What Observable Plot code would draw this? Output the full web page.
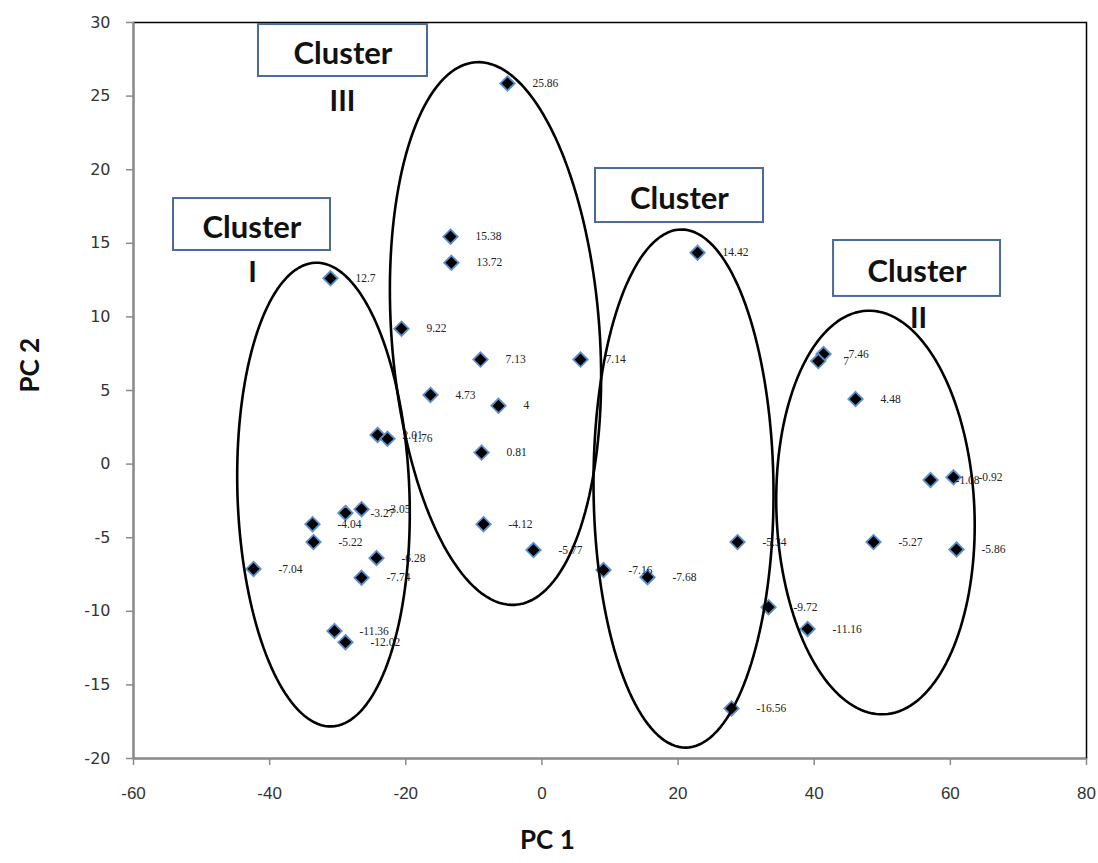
<!DOCTYPE html>
<html>
<head>
<meta charset="utf-8">
<script src="https://cdn.jsdelivr.net/npm/d3@7"></script>
<script src="https://cdn.jsdelivr.net/npm/@observablehq/plot@0.6"></script>
<style>
  html, body { margin: 0; padding: 0; background: #fff; }
  #chart svg { display: block; }
</style>
</head>
<body>
<div id="chart"></div>
<script>
// ---- data ----
const pc1 = [-5.06, -13.43, -13.3, -31.06, -20.63, -9.02, 5.67, -16.37, -6.38, -24.15, -22.69, -8.87,
  -8.58, -1.24, 9.05, 15.51, 22.86, 28.73, 33.29, 39.02, 27.85, 41.37, 40.6, 46.07, 57.09, 60.46,
  48.71, 60.9, -28.86, -26.5, -33.7, -33.56, -24.3, -26.5, -42.37, -30.47, -28.86];
const pc2 = [25.86, 15.45, 13.68, 12.62, 9.2, 7.1, 7.1, 4.7, 3.96, 1.98, 1.72, 0.78,
  -4.08, -5.84, -7.2, -7.68, 14.36, -5.3, -9.72, -11.2, -16.6, 7.48, 7.0, 4.42, -1.08, -0.9,
  -5.3, -5.8, -3.32, -3.06, -4.08, -5.3, -6.38, -7.72, -7.12, -11.34, -12.1];
const pointLabels = ["25.86", "15.38", "13.72", "12.7", "9.22", "7.13", "7.14", "4.73", "4", "2.01", "1.76", "0.81",
  "-4.12", "-5.77", "-7.16", "-7.68", "14.42", "-5.34", "-9.72", "-11.16", "-16.56", "7.46", "7", "4.48", "-1.08", "-0.92",
  "-5.27", "-5.86", "-3.27", "-3.05", "-4.04", "-5.22", "-6.28", "-7.74", "-7.04", "-11.36", "-12.02"];

const xTicks = [-60, -40, -20, 0, 20, 40, 60, 80];
const yTicks = [-20, -15, -10, -5, 0, 5, 10, 15, 20, 25, 30];

// cluster ellipses (centre, semi-axes in data units, tilt in degrees)
const ellCx = [-32.09, -6.82, 20.8, 49.0];
const ellCy = [-2.07, 8.87, -1.66, -3.29];
const ellRx = [12.63, 15.28, 13.22, 14.54];
const ellRy = [15.76, 18.48, 17.6, 13.72];
const ellTilt = [-2, -4.2, -0.5, -2.4];

// cluster boxes
const boxText = ["Cluster", "Cluster", "Cluster", "Cluster"];
const boxX1 = [-54.12, -41.64, 7.87, 42.84];
const boxX2 = [-31.06, -16.81, 32.55, 67.37];
const boxY1 = [18.04, 29.86, 20.08, 15.19];
const boxY2 = [14.51, 26.33, 16.41, 11.39];
const numText = ["I", "III", "II"];
const numX = [-42.52, -29.3, 55.32];
const numY = [13.02, 24.63, 9.89];

// ---- layout ----
const W = 1098, H = 863;
const mL = 133, mR = 12, mT = 22, mB = 105;
const xDom = [-60, 80], yDom = [-20, 30];
const kx = (W - mL - mR) / (xDom[1] - xDom[0]);
const ky = (H - mT - mB) / (yDom[1] - yDom[0]);

const points = pc1.map((x, i) => ({x, y: pc2[i], label: pointLabels[i]}));

const ellipsePts = [];
ellCx.forEach((cx, e) => {
  const a = ellRx[e] * kx, b = ellRy[e] * ky, th = ellTilt[e] * Math.PI / 180;
  for (let k = 0; k < 160; k++) {
    const t = 2 * Math.PI * k / 160;
    const u = a * Math.cos(t), v = b * Math.sin(t);
    const sx = u * Math.cos(th) - v * Math.sin(th);
    const sy = u * Math.sin(th) + v * Math.cos(th);
    ellipsePts.push({e, x: cx + sx / kx, y: ellCy[e] - sy / ky});
  }
});

const boxes = boxText.map((t, i) => ({t, x1: boxX1[i], x2: boxX2[i], y1: boxY1[i], y2: boxY2[i]}));
const nums = numText.map((t, i) => ({t, x: numX[i], y: numY[i]}));

const chart = Plot.plot({
  width: W, height: H,
  marginLeft: mL, marginRight: mR, marginTop: mT, marginBottom: mB,
  x: {domain: xDom, ticks: xTicks},
  y: {domain: yDom, ticks: yTicks},
  style: {background: "#fff", overflow: "visible"},
  marks: [
    Plot.frame({stroke: "#000", strokeWidth: 1.5}),
    Plot.ruleX([-60], {stroke: "#8a8a8a", strokeWidth: 2}),
    Plot.ruleY([-20], {stroke: "#8a8a8a", strokeWidth: 2}),
    Plot.axisY({ticks: yTicks, tickSize: 7, tickPadding: 16, stroke: "#8a8a8a", strokeWidth: 1.5,
      fill: "#333", fontSize: 16, fontFamily: "DejaVu Sans", label: null, tickFormat: d => String(d)}),
    Plot.axisX({ticks: xTicks, tickSize: 7, tickPadding: 21, stroke: "#8a8a8a", strokeWidth: 1.5,
      fill: "#333", fontSize: 17, fontFamily: "Liberation Sans Narrow, Liberation Sans, sans-serif", label: null,
      tickFormat: d => String(d)}),
    Plot.dot(points, {x: "x", y: "y", symbol: "diamond2", r: 6.5, fill: "#000",
      stroke: "#5b8fd0", strokeWidth: 1.8}),
    Plot.text(points, {x: "x", y: "y", text: "label", dx: 25, textAnchor: "start",
      fontSize: 11.5, fontFamily: "Liberation Serif, serif", fill: "#222"}),
    Plot.line(ellipsePts, {x: "x", y: "y", z: "e", curve: "linear-closed", stroke: "#000", strokeWidth: 2.6}),
    Plot.rect(boxes, {x1: "x1", x2: "x2", y1: "y1", y2: "y2", fill: "#fff", stroke: "#4a6a9a", strokeWidth: 2}),
    Plot.text(boxes, {x: d => (d.x1 + d.x2) / 2, y: d => (d.y1 + d.y2) / 2, text: "t", dy: 4,
      fontSize: 31, fontWeight: "bold", fontFamily: "Lato, sans-serif", fill: "#111"}),
    Plot.text(nums, {x: "x", y: "y", text: "t", fontSize: 29, fontWeight: "bold",
      fontFamily: "Lato, sans-serif", fill: "#111"}),
    Plot.text(["PC 1"], {x: 0.8, frameAnchor: "bottom", dy: 90, fontSize: 26, fontWeight: "bold",
      fontFamily: "Lato, sans-serif", fill: "#111"}),
    Plot.text(["PC 2"], {y: 4.86, frameAnchor: "left", dx: -103, rotate: -90, fontSize: 26, fontWeight: "bold",
      fontFamily: "Lato, sans-serif", fill: "#111"})
  ]
});
document.getElementById("chart").appendChild(chart);
</script>
</body>
</html>
